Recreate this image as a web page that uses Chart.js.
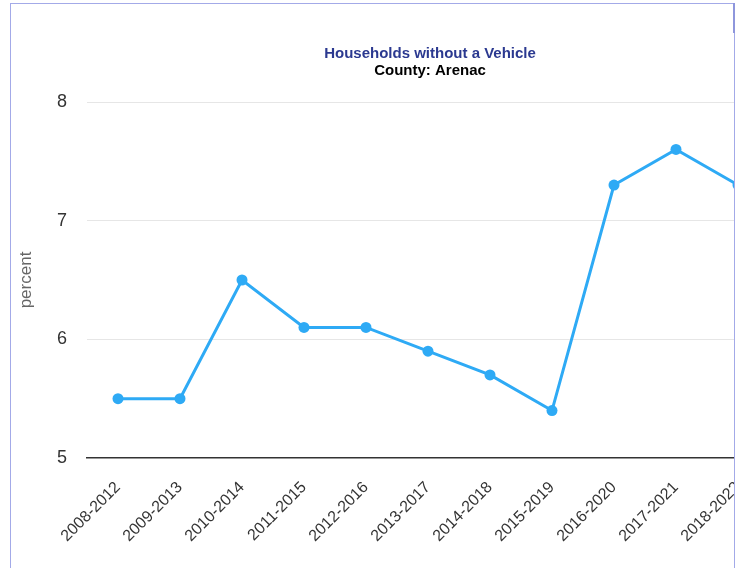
<!DOCTYPE html>
<html>
<head>
<meta charset="utf-8">
<script src="https://cdn.jsdelivr.net/npm/chart.js@4.4.1/dist/chart.umd.min.js"></script>
<style>
  body { margin: 0; background: #fff; overflow: hidden; }
  #frame {
    position: absolute; left: 10px; top: 3px;
    width: 723px; height: 620px;
    border: 1px solid #a3aae8; border-bottom: none;
    overflow: hidden;
  }
  #mark { position: absolute; left: 733px; top: 3px; width: 2px; height: 30px; background: #8e96dc; }
  canvas { display: block; }
</style>
</head>
<body>
<div id="frame"><canvas id="chart" width="833" height="560"></canvas></div>
<div id="mark"></div>
<script>
// data
const periods = ["2008-2012", "2009-2013", "2010-2014", "2011-2015", "2012-2016", "2013-2017",
  "2014-2018", "2015-2019", "2016-2020", "2017-2021", "2018-2022"];
const noVehicle = [5.5, 5.5, 6.5, 6.1, 6.1, 5.9, 5.7, 5.4, 7.3, 7.6, 7.3];
const yTicks = [5, 6, 7, 8];

const font = "'Liberation Sans', Arial, sans-serif";
const blue = "#2eaaf5";

const ctx = document.getElementById("chart").getContext("2d");
const chart = new Chart(ctx, {
  type: "line",
  data: {
    labels: periods,
    datasets: [
      {
        label: "percent",
        data: noVehicle,
        borderColor: blue,
        backgroundColor: blue,
        borderWidth: 3,
        pointRadius: 5.5,
        pointHoverRadius: 5.5,
        pointBorderWidth: 0,
        tension: 0,
      },
    ],
  },
  options: {
    responsive: false,
    animation: false,
    layout: { padding: { left: 5, top: 0, right: 0, bottom: 0 } },
    plugins: {
      legend: { display: false },
      tooltip: { enabled: false },
      title: {
        display: true,
        text: "Households without a Vehicle",
        color: "#2b3990",
        font: { family: font, size: 15, weight: "bold", lineHeight: 1.1 },
        padding: { top: 42, bottom: 0 },
      },
      subtitle: {
        display: true,
        text: "County: Arenac",
        color: "#000",
        font: { family: font, size: 15, weight: "bold", lineHeight: 1.1 },
        padding: { top: 0, bottom: 23 },
      },
    },
    scales: {
      x: {
        offset: true,
        grid: { display: false, drawTicks: false },
        border: { display: true, color: "#333", width: 1.5 },
        ticks: {
          color: "#333",
          font: { family: font, size: 16 },
          minRotation: 45,
          maxRotation: 45,
          autoSkip: false,
          padding: 20,
        },
        afterFit: (s) => { s.height = 106; },
      },
      y: {
        min: 5,
        max: 8,
        afterBuildTicks: (s) => { s.ticks = yTicks.map(v => ({ value: v })); },
        grid: {
          drawTicks: false,
          color: (c) => (c.tick && c.tick.value === 5 ? "rgba(0,0,0,0)" : "#e6e6e6"),
        },
        border: { display: false },
        ticks: {
          color: "#333",
          font: { family: font, size: 18 },
          padding: 20,
        },
        title: {
          display: true,
          text: "percent",
          color: "#666",
          font: { family: font, size: 17 },
          padding: 0,
        },
        afterFit: (s) => { s.width = 71; },
      },
      // empty space at the right so the title centres like the original
      y2: {
        position: "right",
        display: true,
        grid: { display: false, drawTicks: false },
        border: { display: false },
        ticks: { display: false },
        afterFit: (s) => { s.width = 75; },
      },
    },
  },
});
</script>
</body>
</html>
